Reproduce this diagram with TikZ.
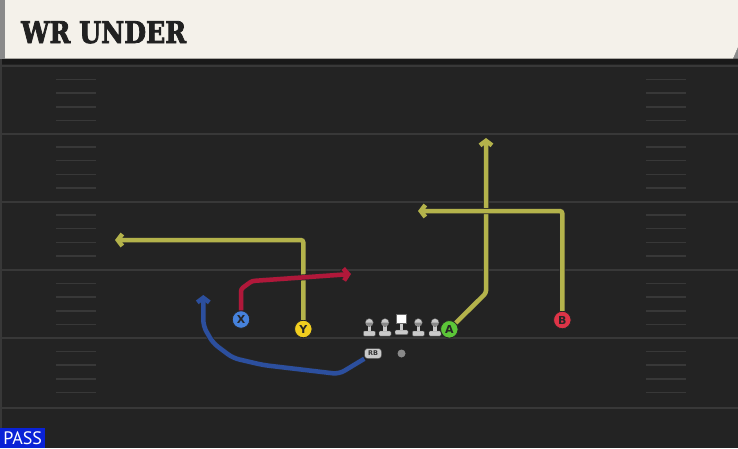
\documentclass[tikz,border=0pt]{standalone}
\usepackage{fontspec}
\setmainfont{DejaVu Serif}
\newfontfamily\titlefont{DejaVu Serif}[BoldFeatures={FakeBold=2.5, FakeStretch=0.84}]
\newfontfamily\labelfont{PT Sans}
\newfontfamily\letterfont{DejaVu Sans}
\usetikzlibrary{arrows.meta}

% colours of the play card
\definecolor{fieldbg}{HTML}{232323}
\definecolor{fieldline}{HTML}{383838}
\definecolor{titlebg}{HTML}{F4F1EA}
\definecolor{routeyellow}{HTML}{B4B34B}
\definecolor{routered}{HTML}{B0183A}
\definecolor{routeblue}{HTML}{2C4F9E}
\definecolor{playerX}{HTML}{4682DC}
\definecolor{playerY}{HTML}{F2CF1F}
\definecolor{playerA}{HTML}{5CC638}
\definecolor{playerB}{HTML}{DE3447}
\definecolor{linegrey}{HTML}{CACACA}
\definecolor{capgrey}{HTML}{8A8A8A}
\definecolor{passblue}{HTML}{0A22D6}

\tikzset{
  player/.style={circle, draw=black!85, line width=0.8pt, minimum size=17.5pt, inner sep=0pt,
    font=\letterfont\bfseries\fontsize{11}{11}\selectfont, text=black!85},
  route/.style={line width=4.5pt, rounded corners=2.5pt,
    preaction={draw=black!85, line width=6pt},
    -{Straight Barb[length=4.5pt,width=12pt]}},
  lineman/.pic={
    \filldraw[fill=linegrey, draw=black!70, line width=0.4pt, rounded corners=1pt]
      (-6,-5) rectangle (6,0);                                      % base
    \fill[linegrey] (-1.8,-12) rectangle (1.8,-4.8);                % stem
    \filldraw[fill=linegrey, draw=black!70, line width=0.4pt] (0,-13.5) circle (4);  % head
    \fill[capgrey] (-3.6,-13.5) arc (180:0:3.6) -- cycle;           % top of head
  },
  centerman/.pic={
    \filldraw[fill=linegrey, draw=black!70, line width=0.4pt, rounded corners=1pt]
      (-6.5,-4.5) rectangle (6.5,0);                                    % base
    \fill[linegrey] (-1.8,-11) rectangle (1.8,-4.3);                    % stem
    \filldraw[fill=white, draw=black!60, line width=0.5pt]
      (-4.8,-20.5) rectangle (4.8,-11);                                 % square
  }
}

\begin{document}
\begin{tikzpicture}[x=1pt, y=-1pt]

    % Fix the size of the card
    \useasboundingbox (0,0) rectangle (738,448);
    
    % Field background
    \fill[fieldbg] (0,0) rectangle (738,448);
    \fill[black!90] (0,58.5) rectangle (738,64);
    \draw[fieldline, line width=2pt] (1,59) -- (1,448);   % left edge
    
    % Yard lines
    \foreach \yl in {66,133.5,201.5,270,338,408}
        \draw[fieldline, line width=2pt] (0,\yl) -- (738,\yl);
    
    % Hash marks, four between each pair of yard lines
    \foreach \yl in {66,133.5,201.5,270,338}
        \foreach \k in {1,...,4} {
            \draw[fieldline, line width=1.5pt] (56,{\yl+13.6*\k}) -- (96,{\yl+13.6*\k});
            \draw[fieldline, line width=1.5pt] (646,{\yl+13.6*\k}) -- (686,{\yl+13.6*\k});
        }
    
    % Title bar
    \fill[capgrey] (0,0) rectangle (5,58.5);
    \fill[capgrey] (733,58.5) -- (738,47) -- (738,58.5) -- cycle;
    \fill[titlebg] (5,0) -- (738,0) -- (738,47) -- (733,58.5) -- (5,58.5) -- cycle;
    \node[anchor=base west, inner sep=0pt, text=black!87,
          font=\titlefont\bfseries\fontsize{30}{30}\selectfont] (title) at (21,43) {WR UNDER};
    
    % Play type tag
    \node[anchor=south west, fill=passblue, text=white, inner sep=0pt,
          minimum width=45pt, minimum height=20pt,
          font=\labelfont\fontsize{18}{18}\selectfont] (play) at (0,448) {PASS};
    
    % Offensive line
    \coordinate (LT) at (369.3,336);     % left tackle
    \coordinate (LG) at (385,336);       % left guard
    \coordinate (C)  at (401.5,334.5);   % center
    \coordinate (RG) at (418.3,336);     % right guard
    \coordinate (RT) at (435,336);       % right tackle
    \pic (lt) at (LT) {lineman};
    \pic (lg) at (LG) {lineman};
    \pic (c)  at (C)  {centerman};
    \pic (rg) at (RG) {lineman};
    \pic (rt) at (RT) {lineman};
    
    % Quarterback and running back
    \node[circle, fill=capgrey, minimum size=8pt, inner sep=0pt] (QB) at (401.5,353.5) {};
    \node[fill=linegrey, draw=black!70, line width=0.5pt, rounded corners=3pt,
          minimum width=17pt, minimum height=10pt, inner sep=0pt, text=black!80,
          font=\letterfont\bfseries\fontsize{6.5}{6.5}\selectfont] (RB) at (373,353.5) {RB};
    
    % Receivers
    \node[player, fill=playerX] (X) at (241,319.5) {X};
    \node[player, fill=playerY] (Y) at (303.3,329) {Y};
    \node[player, fill=playerA] (A) at (449.3,329.3) {A};
    \node[player, fill=playerB] (B) at (562.3,320) {B};
    
    % Route points
    \coordinate (Ycut) at (303.3,240);   % Y breaks in
    \coordinate (Yend) at (115,240);
    \coordinate (Acut) at (486,293);     % A bends upfield
    \coordinate (Aend) at (486,138);
    \coordinate (Bcut) at (562.3,211);   % B breaks in
    \coordinate (Bend) at (418,211);
    \coordinate (Xup)  at (241,289);     % X short out
    \coordinate (Xcut) at (252,281);
    \coordinate (Xend) at (351,274);
    \coordinate (R1) at (339,374);       % RB swing
    \coordinate (R2) at (263,365);
    \coordinate (R3) at (233,358);
    \coordinate (R4) at (213,343);
    \coordinate (R5) at (203.3,326);
    \coordinate (Rend) at (203.3,295);
    
    % Yellow routes
    \draw[route, routeyellow] (Y) -- (Ycut) -- (Yend);
    \draw[route, routeyellow] (A) -- (Acut) -- (Aend);
    \draw[route, routeyellow] (B) -- (Bcut) -- (Bend);
    
    % Red route
    \draw[route, routered] (X) -- (Xup) -- (Xcut) -- (Xend);
    
    % Blue route
    \draw[route, routeblue, rounded corners=6pt] (RB) -- (R1) -- (R2) -- (R3) -- (R4) -- (R5) -- (Rend);
    
    \end{tikzpicture}
\end{document}
